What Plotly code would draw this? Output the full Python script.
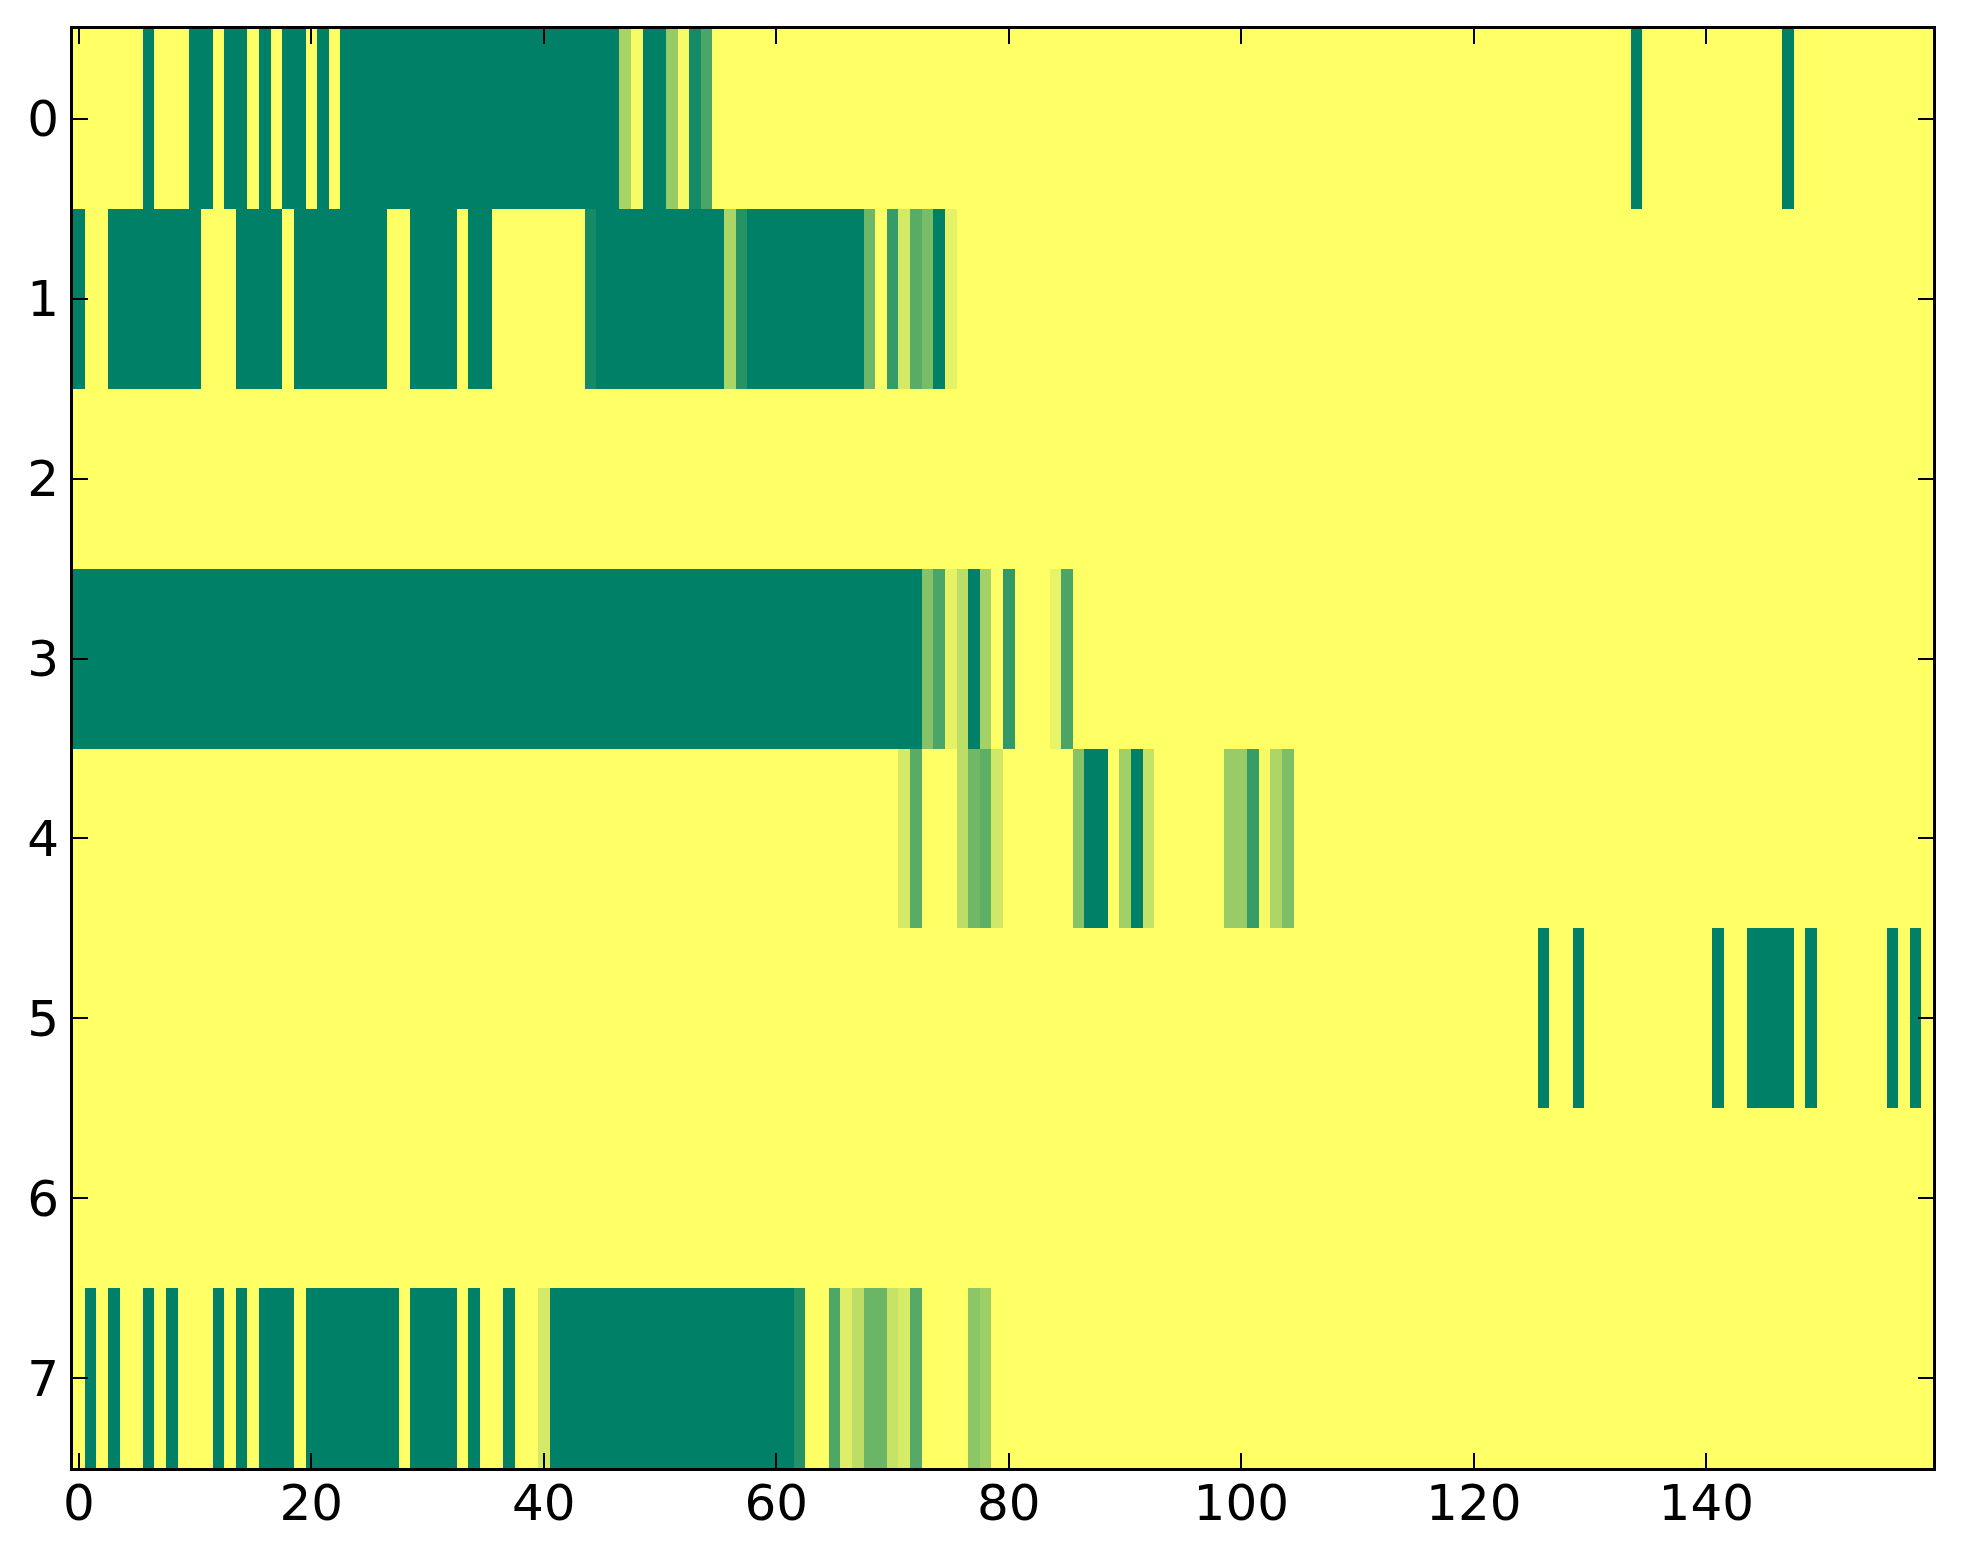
import plotly.graph_objects as go

# one list per row of the image, 160 cells each (0 = green, 1 = yellow)
row0 = [
    1, 1, 1, 1, 1, 1, 0, 1, 1, 1, 0, 0, 1, 0, 0, 1, 0, 1, 0, 0,
    1, 0, 1, 0, 0, 0, 0, 0, 0, 0, 0, 0, 0, 0, 0, 0, 0, 0, 0, 0,
    0, 0, 0, 0, 0, 0, 0, .66, .97, 0, 0, .59, .97, .08, .29, 1, 1, 1, 1, 1,
    1, 1, 1, 1, 1, 1, 1, 1, 1, 1, 1, 1, 1, 1, 1, 1, 1, 1, 1, 1,
    1, 1, 1, 1, 1, 1, 1, 1, 1, 1, 1, 1, 1, 1, 1, 1, 1, 1, 1, 1,
    1, 1, 1, 1, 1, 1, 1, 1, 1, 1, 1, 1, 1, 1, 1, 1, 1, 1, 1, 1,
    1, 1, 1, 1, 1, 1, 1, 1, 1, 1, 1, 1, 1, 1, 0, 1, 1, 1, 1, 1,
    1, 1, 1, 1, 1, 1, 1, 0, 1, 1, 1, 1, 1, 1, 1, 1, 1, 1, 1, 1,
]
row1 = [
    0, 1, 1, 0, 0, 0, 0, 0, 0, 0, 0, 1, 1, 1, 0, 0, 0, 0, 1, 0,
    0, 0, 0, 0, 0, 0, 0, 1, 1, 0, 0, 0, 0, 1, 0, 0, 1, 1, 1, 1,
    1, 1, 1, 1, .08, 0, 0, 0, 0, 0, 0, 0, 0, 0, 0, 0, .67, .15, 0, 0,
    0, 0, 0, 0, 0, 0, 0, 0, .43, 1, .21, .83, .35, .47, 0, .9, 1, 1, 1, 1,
    1, 1, 1, 1, 1, 1, 1, 1, 1, 1, 1, 1, 1, 1, 1, 1, 1, 1, 1, 1,
    1, 1, 1, 1, 1, 1, 1, 1, 1, 1, 1, 1, 1, 1, 1, 1, 1, 1, 1, 1,
    1, 1, 1, 1, 1, 1, 1, 1, 1, 1, 1, 1, 1, 1, 1, 1, 1, 1, 1, 1,
    1, 1, 1, 1, 1, 1, 1, 1, 1, 1, 1, 1, 1, 1, 1, 1, 1, 1, 1, 1,
]
row2 = [
    1, 1, 1, 1, 1, 1, 1, 1, 1, 1, 1, 1, 1, 1, 1, 1, 1, 1, 1, 1,
    1, 1, 1, 1, 1, 1, 1, 1, 1, 1, 1, 1, 1, 1, 1, 1, 1, 1, 1, 1,
    1, 1, 1, 1, 1, 1, 1, 1, 1, 1, 1, 1, 1, 1, 1, 1, 1, 1, 1, 1,
    1, 1, 1, 1, 1, 1, 1, 1, 1, 1, 1, 1, 1, 1, 1, 1, 1, 1, 1, 1,
    1, 1, 1, 1, 1, 1, 1, 1, 1, 1, 1, 1, 1, 1, 1, 1, 1, 1, 1, 1,
    1, 1, 1, 1, 1, 1, 1, 1, 1, 1, 1, 1, 1, 1, 1, 1, 1, 1, 1, 1,
    1, 1, 1, 1, 1, 1, 1, 1, 1, 1, 1, 1, 1, 1, 1, 1, 1, 1, 1, 1,
    1, 1, 1, 1, 1, 1, 1, 1, 1, 1, 1, 1, 1, 1, 1, 1, 1, 1, 1, 1,
]
row3 = [
    0, 0, 0, 0, 0, 0, 0, 0, 0, 0, 0, 0, 0, 0, 0, 0, 0, 0, 0, 0,
    0, 0, 0, 0, 0, 0, 0, 0, 0, 0, 0, 0, 0, 0, 0, 0, 0, 0, 0, 0,
    0, 0, 0, 0, 0, 0, 0, 0, 0, 0, 0, 0, 0, 0, 0, 0, 0, 0, 0, 0,
    0, 0, 0, 0, 0, 0, 0, 0, 0, 0, 0, 0, 0, .53, .29, .9, .74, 0, .64, 1,
    .2, 1, 1, 1, .91, .29, 1, 1, 1, 1, 1, 1, 1, 1, 1, 1, 1, 1, 1, 1,
    1, 1, 1, 1, 1, 1, 1, 1, 1, 1, 1, 1, 1, 1, 1, 1, 1, 1, 1, 1,
    1, 1, 1, 1, 1, 1, 1, 1, 1, 1, 1, 1, 1, 1, 1, 1, 1, 1, 1, 1,
    1, 1, 1, 1, 1, 1, 1, 1, 1, 1, 1, 1, 1, 1, 1, 1, 1, 1, 1, 1,
]
row4 = [
    1, 1, 1, 1, 1, 1, 1, 1, 1, 1, 1, 1, 1, 1, 1, 1, 1, 1, 1, 1,
    1, 1, 1, 1, 1, 1, 1, 1, 1, 1, 1, 1, 1, 1, 1, 1, 1, 1, 1, 1,
    1, 1, 1, 1, 1, 1, 1, 1, 1, 1, 1, 1, 1, 1, 1, 1, 1, 1, 1, 1,
    1, 1, 1, 1, 1, 1, 1, 1, 1, 1, 1, .83, .35, 1, 1, 1, .74, .44, .37, .82,
    1, 1, 1, 1, 1, 1, .53, 0, 0, 1, .63, 0, .77, 1, 1, 1, 1, 1, 1, .6,
    .6, .22, .96, .68, .49, 1, 1, 1, 1, 1, 1, 1, 1, 1, 1, 1, 1, 1, 1, 1,
    1, 1, 1, 1, 1, 1, 1, 1, 1, 1, 1, 1, 1, 1, 1, 1, 1, 1, 1, 1,
    1, 1, 1, 1, 1, 1, 1, 1, 1, 1, 1, 1, 1, 1, 1, 1, 1, 1, 1, 1,
]
row5 = [
    1, 1, 1, 1, 1, 1, 1, 1, 1, 1, 1, 1, 1, 1, 1, 1, 1, 1, 1, 1,
    1, 1, 1, 1, 1, 1, 1, 1, 1, 1, 1, 1, 1, 1, 1, 1, 1, 1, 1, 1,
    1, 1, 1, 1, 1, 1, 1, 1, 1, 1, 1, 1, 1, 1, 1, 1, 1, 1, 1, 1,
    1, 1, 1, 1, 1, 1, 1, 1, 1, 1, 1, 1, 1, 1, 1, 1, 1, 1, 1, 1,
    1, 1, 1, 1, 1, 1, 1, 1, 1, 1, 1, 1, 1, 1, 1, 1, 1, 1, 1, 1,
    1, 1, 1, 1, 1, 1, 1, 1, 1, 1, 1, 1, 1, 1, 1, 1, 1, 1, 1, 1,
    1, 1, 1, 1, 1, 1, 0, 1, 1, 0, 1, 1, 1, 1, 1, 1, 1, 1, 1, 1,
    1, 0, 1, 1, 0, 0, 0, 0, 1, 0, 1, 1, 1, 1, 1, 1, 0, 1, 0, 1,
]
row6 = [
    1, 1, 1, 1, 1, 1, 1, 1, 1, 1, 1, 1, 1, 1, 1, 1, 1, 1, 1, 1,
    1, 1, 1, 1, 1, 1, 1, 1, 1, 1, 1, 1, 1, 1, 1, 1, 1, 1, 1, 1,
    1, 1, 1, 1, 1, 1, 1, 1, 1, 1, 1, 1, 1, 1, 1, 1, 1, 1, 1, 1,
    1, 1, 1, 1, 1, 1, 1, 1, 1, 1, 1, 1, 1, 1, 1, 1, 1, 1, 1, 1,
    1, 1, 1, 1, 1, 1, 1, 1, 1, 1, 1, 1, 1, 1, 1, 1, 1, 1, 1, 1,
    1, 1, 1, 1, 1, 1, 1, 1, 1, 1, 1, 1, 1, 1, 1, 1, 1, 1, 1, 1,
    1, 1, 1, 1, 1, 1, 1, 1, 1, 1, 1, 1, 1, 1, 1, 1, 1, 1, 1, 1,
    1, 1, 1, 1, 1, 1, 1, 1, 1, 1, 1, 1, 1, 1, 1, 1, 1, 1, 1, 1,
]
row7 = [
    1, 0, 1, 0, 1, 1, 0, 1, 0, 1, 1, 1, 0, 1, 0, 1, 0, 0, 0, 1,
    0, 0, 0, 0, 0, 0, 0, 0, 1, 0, 0, 0, 0, 1, 0, 1, 1, 0, 1, 1,
    .83, 0, 0, 0, 0, 0, 0, 0, 0, 0, 0, 0, 0, 0, 0, 0, 0, 0, 0, 0,
    0, 0, .14, 1, 1, .31, .87, .74, .42, .42, .78, .84, .33, 1, 1, 1, 1, .55, .62, 1,
    1, 1, 1, 1, 1, 1, 1, 1, 1, 1, 1, 1, 1, 1, 1, 1, 1, 1, 1, 1,
    1, 1, 1, 1, 1, 1, 1, 1, 1, 1, 1, 1, 1, 1, 1, 1, 1, 1, 1, 1,
    1, 1, 1, 1, 1, 1, 1, 1, 1, 1, 1, 1, 1, 1, 1, 1, 1, 1, 1, 1,
    1, 1, 1, 1, 1, 1, 1, 1, 1, 1, 1, 1, 1, 1, 1, 1, 1, 1, 1, 1,
]

x_ticks = [0, 20, 40, 60, 80, 100, 120, 140]
y_ticks = [0, 1, 2, 3, 4, 5, 6, 7]

z = [row0, row1, row2, row3, row4, row5, row6, row7]

# matplotlib "summer": green -> yellow, linear
summer = [[0.0, "rgb(0,128,102)"], [1.0, "rgb(255,255,102)"]]

fig = go.Figure(go.Heatmap(
    z=z,
    colorscale=summer,
    zmin=0, zmax=1,
    showscale=False,
    hoverinfo="skip",
))

axis_style = dict(
    showgrid=False, zeroline=False,
    showline=True, linecolor="black", linewidth=3,
    mirror="allticks", ticks="inside", ticklen=15, tickwidth=1.5,
    tickcolor="black",
    tickfont=dict(family="DejaVu Sans", size=50, color="black"),
)

fig.update_xaxes(range=[-0.5, len(row0) - 0.5], tickvals=x_ticks,
                 ticklabelstandoff=-11, **axis_style)
fig.update_yaxes(range=[len(z) - 0.5, -0.5], tickvals=y_ticks,
                 ticklabelstandoff=1, **axis_style)

# page body adds 8px, so margins are shifted to keep the plot box in place
fig.update_layout(
    width=1963, height=1564,
    margin=dict(l=65, r=38, t=21, b=104, pad=0),
    paper_bgcolor="white", plot_bgcolor="white",
)

fig.write_html("out.html")
